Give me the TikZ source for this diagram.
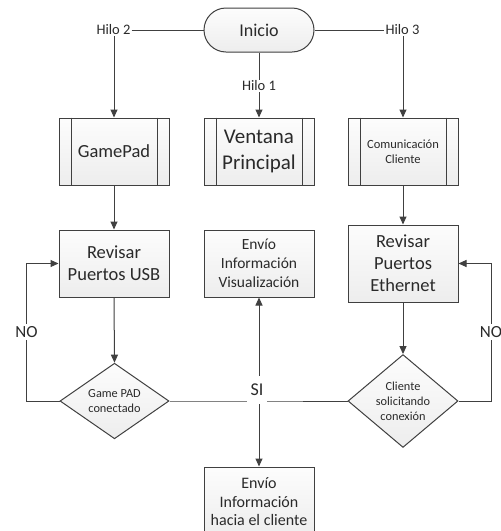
\documentclass[tikz,border=0pt]{standalone}
\usepackage{fontspec}
\setmainfont{Carlito}
\usetikzlibrary{shapes.geometric,arrows.meta}
\definecolor{lc}{HTML}{404040}
\definecolor{tc}{HTML}{2A2A2A}
\tikzset{
  fs/.style n args={2}{font=\fontsize{#1}{#2}\selectfont},
  box/.style={draw=lc, line width=1pt, top color=gray!2, bottom color=gray!14, text=tc, align=center, inner sep=0pt, minimum width=110pt},
  proc/.style={box, minimum height=67pt},
  dia/.style={diamond, draw=lc, line width=1pt, top color=gray!2, bottom color=gray!14, text=tc, align=center, inner sep=0pt, minimum width=110pt},
  term/.style={box, rounded corners=22pt, minimum height=44pt},
  lbl/.style={text=tc, inner sep=1pt, fill=white},
  conn/.style={draw=lc, line width=1pt},
  arr/.style={conn, -{Triangle[length=8pt,width=7pt]}},
}
\begin{document}
\begin{tikzpicture}[x=1pt,y=-1pt]
\useasboundingbox (0,0) rectangle (501,531);
\clip (0,0) rectangle (501,531);
\fill[white] (0,0) rectangle (501,531);

% nodes
\node[term, fs={18}{22}] (inicio) at (259,30) {Inicio};
\node[lbl, fs={14.5}{17}] (h2) at (113.5,30) {Hilo 2};
\node[lbl, fs={14.5}{17}] (h3) at (402.5,30) {Hilo 3};
\node[lbl, fs={14.5}{17}] (h1) at (259,86) {Hilo 1};

\node[proc, fs={18.5}{22}] (gp) at (114,151.5) {GamePad};
\node[proc, fs={21}{26}] (ven) at (259,151.5) {Ventana\\Principal};
\node[proc, fs={12.5}{15}] (com) at (403,151.5) {Comunicación\\Cliente};

\node[box, fs={18.5}{22}, minimum height=67pt] (usb) at (114,263.5) {Revisar\\Puertos USB};
\node[box, fs={15.5}{19}, minimum height=67pt] (vis) at (259,263.5) {Envío\\Información\\Visualización};
\node[box, fs={18.5}{22}, minimum height=77pt] (eth) at (403,263.5) {Revisar\\Puertos\\Ethernet};

\node[dia, fs={12.3}{15}, minimum width=109pt, minimum height=66pt] (gpad) at (114.5,401) {Game PAD\\conectado};
\node[dia, fs={12.3}{15}, minimum width=110pt, minimum height=72pt] (cli) at (403,401) {Cliente\\solicitando\\conexión};

\node[box, fs={16}{18.5}, minimum height=70pt] (envcli) at (259,502) {Envío\\Información\\hacia el cliente};

\coordinate (j) at (259,401);
\coordinate (nl) at (26.5,401);
\coordinate (nr) at (491,401);

% process inner lines
\foreach \n in {gp,ven,com}{
  \draw[conn] ([xshift=13pt]\n.north west) -- ([xshift=13pt]\n.south west);
  \draw[conn] ([xshift=-12pt]\n.north east) -- ([xshift=-12pt]\n.south east);
}

% connectors
\draw[conn] (h2.east) -- (inicio.west);
\draw[conn] (inicio.east) -- (h3.west);
\draw[arr] (h2.south -| gp.north) -- (gp.north);
\draw[arr] (h3.south -| com.north) -- (com.north);
\draw[conn] (inicio.south) -- (h1.north);
\draw[arr] (h1.south) -- (ven.north);

\draw[arr] (gp.south) -- (usb.north);
\draw[arr] (com.south) -- (eth.north);
\draw[arr] (usb.south) -- (gpad.north);
\draw[arr] (eth.south) -- (cli.north);

\draw[arr] (gpad.west) -- (nl) -- (nl |- usb.west) -- (usb.west);
\draw[arr] (cli.east) -- (nr) -- (nr |- eth.west) -- (eth.east);

\draw[conn] (gpad.east) -- (j) -- (cli.west);
\draw[arr] (j) -- (vis.south);
\draw[arr] (j) -- (envcli.north);

% labels on lines
\node[lbl, fs={17}{20}, inner sep=2pt] (no1) at (26.5,332) {NO};
\node[lbl, fs={17}{20}, inner sep=2pt] (no2) at (491,332) {NO};
\node[lbl, fs={18}{20}, minimum width=20pt, minimum height=28pt, inner sep=0pt] (si) at (257,390) {SI};
\end{tikzpicture}
\end{document}
